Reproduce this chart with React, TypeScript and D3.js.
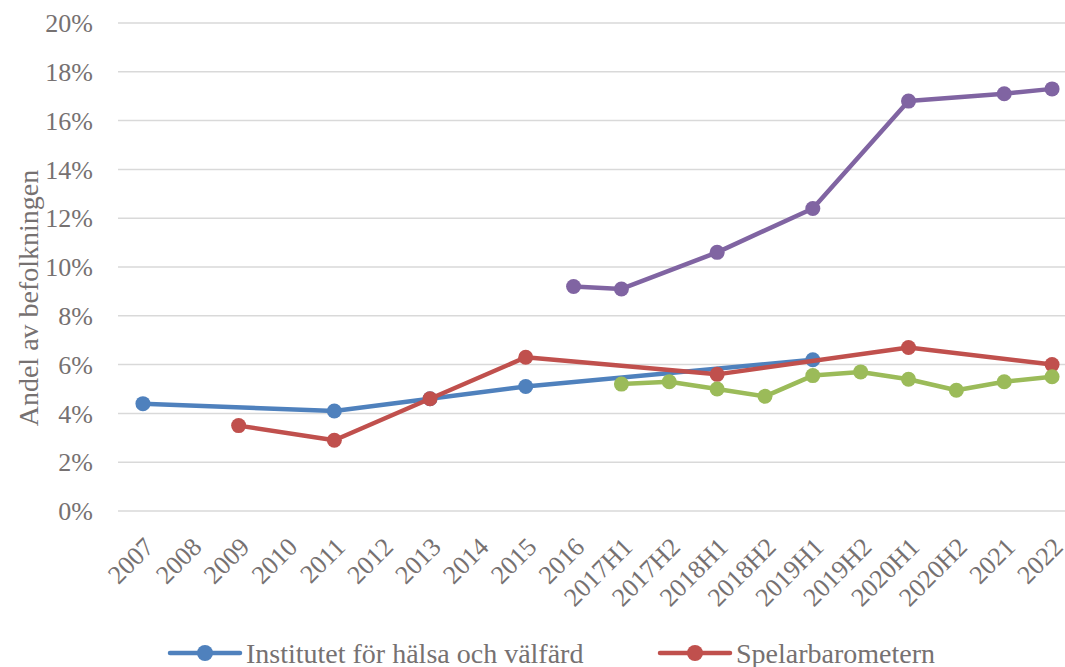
import React from "react";
import * as d3 from "d3";

const categories = ["2007","2008","2009","2010","2011","2012","2013","2014","2015","2016","2017H1","2017H2","2018H1","2018H2","2019H1","2019H2","2020H1","2020H2","2021","2022"];
const yTicks = [0, 2, 4, 6, 8, 10, 12, 14, 16, 18, 20];

type Pt = [string, number];
const blueValues: Pt[] = [["2007", 4.4], ["2011", 4.1], ["2013", 4.6], ["2015", 5.1], ["2019H1", 6.2]];
const redValues: Pt[] = [["2009", 3.5], ["2011", 2.9], ["2013", 4.6], ["2015", 6.3], ["2018H1", 5.6], ["2020H1", 6.7], ["2022", 6.0]];
const greenValues: Pt[] = [["2017H1", 5.2], ["2017H2", 5.3], ["2018H1", 5.0], ["2018H2", 4.7], ["2019H1", 5.55], ["2019H2", 5.7], ["2020H1", 5.4], ["2020H2", 4.95], ["2021", 5.3], ["2022", 5.5]];
const purpleValues: Pt[] = [["2016", 9.2], ["2017H1", 9.1], ["2018H1", 10.6], ["2019H1", 12.4], ["2020H1", 16.8], ["2021", 17.1], ["2022", 17.3]];

const seriesList = [
  { name: "Institutet för hälsa och välfärd", color: "#4F81BD", values: blueValues },
  { name: "Spelarbarometern", color: "#C0504D", values: redValues },
  { name: "green", color: "#9BBB59", values: greenValues },
  { name: "purple", color: "#8064A2", values: purpleValues },
];
const legendItems = [
  { name: "Institutet för hälsa och välfärd", color: "#4F81BD" },
  { name: "Spelarbarometern", color: "#C0504D" },
];

const W = 1065, H = 667;
const FONT = "'Liberation Serif', 'Times New Roman', serif";
const TEXT = "#767171";

export default function App() {
  const x = d3.scalePoint<string>().domain(categories).range([119, 1076]).padding(0.5);
  const y = d3.scaleLinear().domain([0, 20]).range([511, 23]);
  const line = d3.line<Pt>().x(d => x(d[0])!).y(d => y(d[1]));
  const gridLeft = 118, gridRight = 1076;
  const legendX = [168, 658];

  return (
    <svg width={W} height={H} style={{ position: "absolute", left: 0, top: 0, background: "#fff" }} fontFamily={FONT}>
      <rect width={W} height={H} fill="#fff" />
      {yTicks.map(t => (
        <g key={t}>
          <line x1={gridLeft} x2={gridRight} y1={y(t)} y2={y(t)} stroke="#D9D9D9" strokeWidth={1.5} />
          <text x={93} y={y(t)} dy="0.35em" textAnchor="end" fontSize={26} fill={TEXT}>{t}%</text>
        </g>
      ))}
      <text transform={`translate(28,${298}) rotate(-90)`} textAnchor="middle" fontSize={28} fill={TEXT} dy="0.35em">Andel av befolkningen</text>
      {categories.map(c => (
        <text key={c} transform={`translate(${x(c)! + 6},${542}) rotate(-45)`} textAnchor="end" fontSize={26} fill={TEXT} dy="0.35em">{c}</text>
      ))}
      {seriesList.map(s => (
        <g key={s.name}>
          <path d={line(s.values)!} fill="none" stroke={s.color} strokeWidth={4.5} strokeLinejoin="round" />
          {s.values.map(d => (
            <circle key={d[0]} cx={x(d[0])} cy={y(d[1])} r={7.5} fill={s.color} />
          ))}
        </g>
      ))}
      {legendItems.map((l, i) => (
        <g key={l.name} transform={`translate(${legendX[i]},653)`}>
          <line x1={2} x2={72} y1={0} y2={0} stroke={l.color} strokeWidth={4.5} strokeLinecap="round" />
          <circle cx={37} cy={0} r={8} fill={l.color} />
          <text x={78} y={0} dy="0.35em" fontSize={28} fill={TEXT}>{l.name}</text>
        </g>
      ))}
    </svg>
  );
}
